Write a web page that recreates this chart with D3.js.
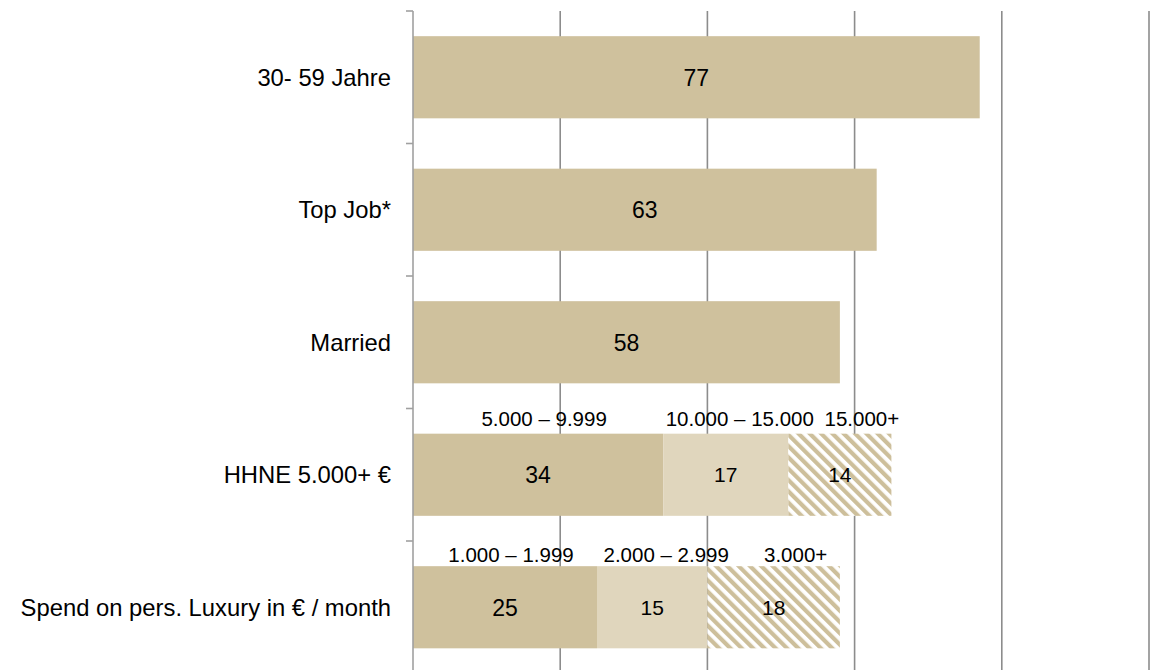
<!DOCTYPE html>
<meta charset="utf-8">
<style>
    body { margin: 0; background: white; }
    svg { display: block; background: white; }
    text { font-family: "Liberation Sans", Arial, sans-serif; fill: #000; }
    .grid line { stroke: #8c8c8c; stroke-width: 1.6; }
    .axis line { stroke: #a0a0a0; stroke-width: 1.6; }
</style>
<svg width="1151" height="670"></svg>
<script src="https://d3js.org/d3.v7.min.js"></script>
<script>
    // chart values
    var categories = ["30- 59 Jahre", "Top Job*", "Married", "HHNE 5.000+ €", "Spend on pers. Luxury in € / month"];
    var segMain = [77, 63, 58, 34, 25];
    var segMid = [0, 0, 0, 17, 15];
    var segTop = [0, 0, 0, 14, 18];
    var hhneLabels = ["5.000 – 9.999", "10.000 – 15.000", "15.000+"];
    var luxuryLabels = ["1.000 – 1.999", "2.000 – 2.999", "3.000+"];
    var gridTicks = [20, 40, 60, 80, 100];

    var svg = d3.select("svg"),
        width = 1151,
        height = 670;

    var x = d3.scaleLinear().domain([0, 100]).range([413, 1149]);
    var y = d3.scaleBand().domain(categories).range([11, 673.5])
        .paddingInner(0.38).paddingOuter(0.19);

    var defs = svg.append("defs");
    var pat = defs.append("pattern")
        .attr("id", "hatch")
        .attr("patternUnits", "userSpaceOnUse")
        .attr("width", 8).attr("height", 8)
        .attr("patternTransform", "rotate(-45)");
    pat.append("rect").attr("width", 8).attr("height", 8).attr("fill", "white");
    pat.append("rect").attr("x", 0).attr("y", 0).attr("width", 4.2).attr("height", 8).attr("fill", "#cdbf9b");

    // vertical gridlines
    svg.append("g").attr("class", "grid")
        .selectAll("line")
        .data(gridTicks)
        .enter().append("line")
        .attr("x1", function (d) { return x(d); })
        .attr("x2", function (d) { return x(d); })
        .attr("y1", y.range()[0])
        .attr("y2", height);

    // rows -> segments
    var rows = categories.map(function (c, i) {
        var segs = [
            { v: segMain[i], fill: "#cfc19d", size: 23 },
            { v: segMid[i], fill: "#e0d6bd", size: 21 },
            { v: segTop[i], fill: "url(#hatch)", size: 21 }
        ];
        var acc = 0;
        segs.forEach(function (s) { s.x0 = acc; acc += s.v; s.x1 = acc; });
        return { cat: c, segs: segs.filter(function (s) { return s.v > 0; }) };
    });

    var row = svg.selectAll(".row")
        .data(rows)
        .enter().append("g")
        .attr("class", "row");

    row.selectAll("rect")
        .data(function (d) { return d.segs.map(function (s) { s.cat = d.cat; return s; }); })
        .enter().append("rect")
        .attr("x", function (d) { return x(d.x0); })
        .attr("width", function (d) { return x(d.x1) - x(d.x0); })
        .attr("y", function (d) { return y(d.cat); })
        .attr("height", y.bandwidth())
        .attr("fill", function (d) { return d.fill; });

    row.selectAll(".val")
        .data(function (d) { return d.segs; })
        .enter().append("text")
        .attr("class", "val")
        .attr("x", function (d) { return (x(d.x0) + x(d.x1)) / 2; })
        .attr("y", function (d) { return y(d.cat) + y.bandwidth() / 2; })
        .attr("dy", "0.36em")
        .attr("text-anchor", "middle")
        .style("font-size", function (d) { return d.size + "px"; })
        .text(function (d) { return d.v; });

    // bracket labels above the split bars (nudged right like the original text boxes)
    function bracket(cat, labels, dy) {
        var r = rows[categories.indexOf(cat)];
        svg.append("g").selectAll("text")
            .data(r.segs)
            .enter().append("text")
            .attr("x", function (d, i) { return (x(d.x0) + x(d.x1)) / 2 + 6 + 8 * i; })
            .attr("y", y(cat) - dy)
            .attr("text-anchor", "middle")
            .style("font-size", "20.5px")
            .text(function (d, i) { return labels[i]; });
    }
    bracket("HHNE 5.000+ €", hhneLabels, 8);
    bracket("Spend on pers. Luxury in € / month", luxuryLabels, 4);

    // category axis
    var ax = svg.append("g").attr("class", "axis");
    ax.append("line")
        .attr("x1", x(0)).attr("x2", x(0))
        .attr("y1", y.range()[0]).attr("y2", height);
    var bounds = d3.range(categories.length + 1).map(function (i) {
        return y.range()[0] + i * y.step();
    });
    ax.selectAll(".tick")
        .data(bounds)
        .enter().append("line")
        .attr("class", "tick")
        .attr("x1", x(0) - 7).attr("x2", x(0))
        .attr("y1", function (d) { return d; })
        .attr("y2", function (d) { return d; });

    ax.selectAll(".cat")
        .data(categories)
        .enter().append("text")
        .attr("class", "cat")
        .attr("x", x(0) - 22)
        .attr("y", function (d) { return y(d) + y.bandwidth() / 2; })
        .attr("dy", "0.36em")
        .attr("text-anchor", "end")
        .style("font-size", "23.8px")
        .text(function (d) { return d; });
</script>
